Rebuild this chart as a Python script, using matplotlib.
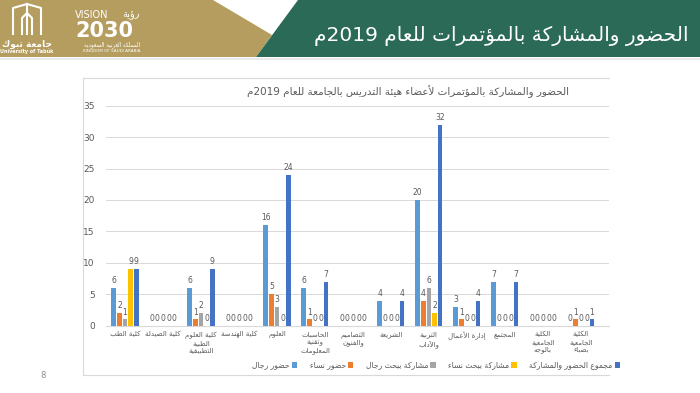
import re
import numpy as np
import matplotlib
matplotlib.use('Agg')
import matplotlib.pyplot as plt
from matplotlib.patches import Polygon
from matplotlib.lines import Line2D

plt.rcParams['font.family'] = ['DejaVu Sans']

# === 데이터 ===
categories = ['كلية الطب', 'كلية الصيدلة', 'كلية العلوم\nالطبية\nالتطبيقية', 'كلية الهندسة',
              'العلوم', 'الحاسبات\nوتقنية\nالمعلومات', 'التصاميم\nوالفنون', 'الشريعة',
              'التربية\nوالآداب', 'إدارة الأعمال', 'المجتمع', 'الكلية\nالجامعية\nبالوجه',
              'الكلية\nالجامعية\nبضباء']
men_attend = [6, 0, 6, 0, 16, 6, 0, 4, 20, 3, 7, 0, 0]
women_attend = [2, 0, 1, 0, 5, 1, 0, 0, 4, 1, 0, 0, 1]
men_paper = [1, 0, 2, 0, 3, 0, 0, 0, 6, 0, 0, 0, 0]
women_paper = [9, 0, 0, 0, 0, 0, 0, 0, 2, 0, 0, 0, 0]
total = [9, 0, 9, 0, 24, 7, 0, 4, 32, 4, 7, 0, 1]
series_names = ['حضور رجال', 'حضور نساء', 'مشاركة ببحث رجال', 'مشاركة ببحث نساء',
                'مجموع الحضور والمشاركة']
colors = ['#5B9BD5', '#ED7D31', '#A5A5A5', '#FFC000', '#4472C4']
slide_title = 'الحضور والمشاركة بالمؤتمرات للعام 2019م'
chart_title = 'الحضور والمشاركة بالمؤتمرات لأعضاء هيئة التدريس بالجامعة للعام 2019م'

# --- 아랍어 모양 변환 (presentation forms) + 간단한 bidi ---
FORMS = {0x621: (0xFE80, 1), 0x622: (0xFE81, 2), 0x623: (0xFE83, 2), 0x624: (0xFE85, 2),
         0x625: (0xFE87, 2), 0x626: (0xFE89, 4), 0x627: (0xFE8D, 2), 0x628: (0xFE8F, 4),
         0x629: (0xFE93, 2), 0x62A: (0xFE95, 4), 0x62B: (0xFE99, 4), 0x62C: (0xFE9D, 4),
         0x62D: (0xFEA1, 4), 0x62E: (0xFEA5, 4), 0x62F: (0xFEA9, 2), 0x630: (0xFEAB, 2),
         0x631: (0xFEAD, 2), 0x632: (0xFEAF, 2), 0x633: (0xFEB1, 4), 0x634: (0xFEB5, 4),
         0x635: (0xFEB9, 4), 0x636: (0xFEBD, 4), 0x637: (0xFEC1, 4), 0x638: (0xFEC5, 4),
         0x639: (0xFEC9, 4), 0x63A: (0xFECD, 4), 0x641: (0xFED1, 4), 0x642: (0xFED5, 4),
         0x643: (0xFED9, 4), 0x644: (0xFEDD, 4), 0x645: (0xFEE1, 4), 0x646: (0xFEE5, 4),
         0x647: (0xFEE9, 4), 0x648: (0xFEED, 2), 0x649: (0xFEEF, 2), 0x64A: (0xFEF1, 4)}
LAMALEF = {0x622: 0xFEF5, 0x623: 0xFEF7, 0x625: 0xFEF9, 0x627: 0xFEFB}


def shape(s):
    items = []
    i = 0
    while i < len(s):
        c = ord(s[i])
        if c == 0x644 and i + 1 < len(s) and ord(s[i + 1]) in LAMALEF:
            items.append((LAMALEF[ord(s[i + 1])], 2)); i += 2; continue
        items.append(FORMS.get(c, s[i]))
        i += 1
    out = []
    for k, it in enumerate(items):
        if isinstance(it, str):
            out.append(it); continue
        base, n = it
        prev = items[k - 1] if k > 0 else None
        nxt = items[k + 1] if k + 1 < len(items) else None
        jp = isinstance(prev, tuple) and prev[1] == 4
        jn = n == 4 and isinstance(nxt, tuple) and nxt[1] >= 2
        f = 3 if (jp and jn) else 1 if jp else 2 if jn else 0
        if n == 1: f = 0
        out.append(chr(base + f))
    return ''.join(out)


def ar(s):
    lines = []
    for line in s.split('\n'):
        runs = re.findall(r'[0-9A-Za-z]+|[^0-9A-Za-z]+', shape(line))
        lines.append(''.join(r if re.match(r'[0-9A-Za-z]', r) else r[::-1] for r in reversed(runs)))
    return '\n'.join(lines)


W, H = 700, 393
def fx(x): return x / W
def fy(y): return 1 - y / H

fig = plt.figure(figsize=(7, 3.93), dpi=100)
fig.patch.set_facecolor('white')

# 헤더
gold = '#B49D5E'; green = '#2B6A57'
fig.patches.append(Polygon([(fx(0), fy(0)), (fx(213), fy(0)), (fx(272), fy(35)), (fx(256), fy(57)),
                            (fx(0), fy(57))], closed=True, transform=fig.transFigure,
                           facecolor=gold, edgecolor='none'))
fig.patches.append(Polygon([(fx(298), fy(0)), (fx(700), fy(0)), (fx(700), fy(57)), (fx(256), fy(57))],
                           closed=True, transform=fig.transFigure, facecolor=green, edgecolor='none'))
fig.lines.append(Line2D([0, 1], [fy(58.5), fy(58.5)], transform=fig.transFigure, color='#E6E6E6', lw=1.2))
fig.text(fx(689), fy(36), ar(slide_title), color='white', fontsize=14.5, ha='right', va='center')

# 로고 (간단히)
for xs, ys in [([13, 13, 27, 27], [34, 8, 4, 34]), ([41, 41, 27], [34, 8, 4]),
               ([22, 22, 27, 32, 32], [34, 18, 13, 18, 34])]:
    fig.lines.append(Line2D([fx(x) for x in xs], [fy(y) for y in ys], transform=fig.transFigure,
                            color='white', lw=1.5))
fig.text(fx(27), fy(44), ar('جامعة تبوك'), color='white', fontsize=6.5, ha='center', va='center', weight='bold')
fig.text(fx(27), fy(52), 'University of Tabuk', color='white', fontsize=3.5, ha='center', va='center', weight='bold')
fig.text(fx(75), fy(15), 'VISION', color='white', fontsize=7, ha='left', va='center')
fig.text(fx(140), fy(15), ar('رؤية'), color='white', fontsize=7, ha='right', va='center')
fig.text(fx(75), fy(31), '2030', color='white', fontsize=15, ha='left', va='center', weight='bold')
fig.text(fx(112), fy(45), ar('المملكة العربية السعودية'), color='white', fontsize=4, ha='center', va='center')
fig.text(fx(112), fy(51), 'KINGDOM OF SAUDI ARABIA', color='white', fontsize=3, ha='center', va='center')

# 차트 영역 테두리 (오른쪽은 잘림)
for xs, ys in [([83, 609], [78, 78]), ([83, 83], [78, 375]), ([83, 609], [375, 375])]:
    fig.lines.append(Line2D([fx(x) for x in xs], [fy(y) for y in ys], transform=fig.transFigure,
                            color='#D9D9D9', lw=0.8))
fig.text(fx(408), fy(92), ar(chart_title), color='#595959', fontsize=7.5, ha='center', va='center')
fig.text(fx(43), fy(376), '8', color='#8C8C8C', fontsize=6, ha='center', va='center')

ax = fig.add_axes([fx(106), fy(325.7), fx(609) - fx(106), fy(105.7) - fy(325.7)])
ax.set_facecolor('none')
x = np.arange(len(categories))
series = [men_attend, women_attend, men_paper, women_paper, total]
step = 0.147
handles = []
for i, (vals, c) in enumerate(zip(series, colors)):
    xs = x + (i - 2) * step
    b = ax.bar(xs, vals, width=0.125, color=c, zorder=3)
    handles.append(b)
    for xx, v in zip(xs, vals):
        ax.text(xx, v + 0.45, str(v), ha='center', va='bottom', fontsize=5.5, color='#595959')

ax.set_ylim(0, 35)
ax.set_xlim(-0.5, 12.74)
ax.set_yticks(range(0, 36, 5))
ax.grid(True, axis='y', color='#D9D9D9', lw=0.7, zorder=0)
ax.set_xticks(x)
ax.set_xticklabels([ar(c) for c in categories], fontsize=5, color='#595959', linespacing=1.3)
ax.tick_params(axis='both', length=0, colors='#595959')
ax.tick_params(axis='y', labelsize=6.5, pad=8)
ax.tick_params(axis='x', pad=4)
for s in ['top', 'right', 'left']:
    ax.spines[s].set_visible(False)
ax.spines['bottom'].set_color('#D9D9D9')

fig.legend(handles, [ar(n) for n in series_names], loc='center', bbox_to_anchor=(fx(436), fy(365)),
           ncol=5, frameon=False, fontsize=5.5, markerfirst=False, handlelength=0.7, handleheight=0.7,
           columnspacing=1.6, handletextpad=0.3, labelcolor='#595959')

fig.savefig('out.png', dpi=100)
